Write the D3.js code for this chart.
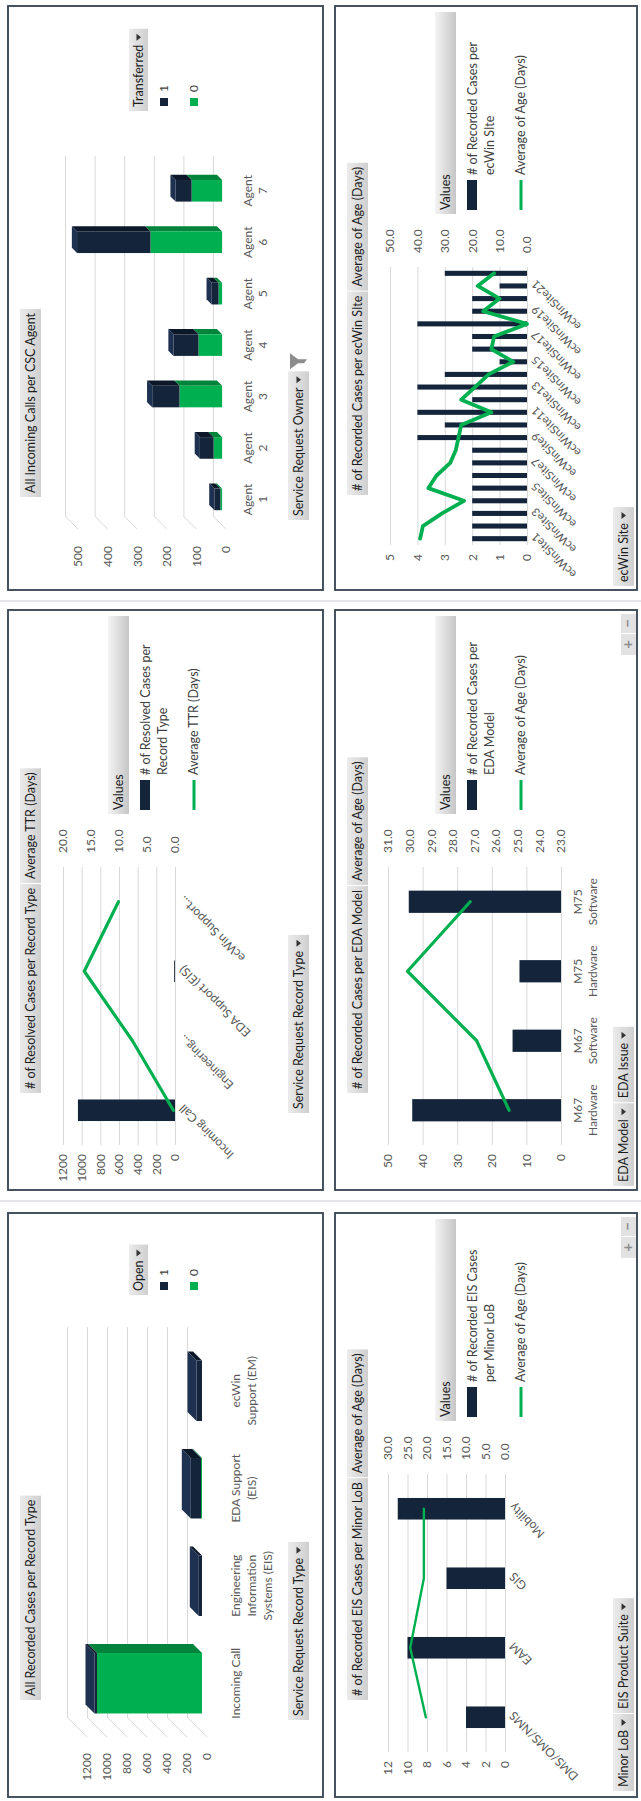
<!DOCTYPE html>
<html>
<head>
<meta charset="utf-8">
<script src="https://cdn.jsdelivr.net/npm/d3@7/dist/d3.min.js"></script>
<style>
  html, body { margin: 0; padding: 0; background: #ffffff; }
  svg { display: block; }
  text { font-family: Lato, "Open Sans", "Noto Sans", sans-serif; }
</style>
</head>
<body>
<svg id="chart" width="641" height="1801"></svg>
<script>
// ================= DATA =================
// All Recorded Cases per Record Type (3D stacked columns, legend "Open")
const recordTypeCats = ["Incoming Call", "Engineering Information Systems (EIS)", "EDA Support (EIS)", "ecWin Support (EM)"];
const recordTypeLabelLines = [["Incoming Call"], ["Engineering", "Information", "Systems (EIS)"], ["EDA Support", "(EIS)"], ["ecWin", "Support (EM)"]];
const openZeroCounts = [1050, 0, 10, 0];
const openOneCounts = [25, 32, 102, 55];
const recordTicks = [0, 200, 400, 600, 800, 1000, 1200];

// # of Resolved Cases per Record Type | Average TTR (Days)
const resolvedCats = ["Incoming Call", "Engineering...", "EDA Support (EIS)", "ecWin Support..."];
const resolvedCounts = [1040, 0, 9, 0];
const resolvedTTR = [0.3, 7.6, 16.2, 10.1];
const resolvedLeftTicks = [0, 200, 400, 600, 800, 1000, 1200];
const resolvedRightTicks = [0, 5, 10, 15, 20];

// All Incoming Calls per CSC Agent (3D stacked columns, legend "Transferred")
const agentCats = ["Agent 1", "Agent 2", "Agent 3", "Agent 4", "Agent 5", "Agent 6", "Agent 7"];
const agentLabelLines = [["Agent", "1"], ["Agent", "2"], ["Agent", "3"], ["Agent", "4"], ["Agent", "5"], ["Agent", "6"], ["Agent", "7"]];
const transferredZero = [6, 29, 144, 80, 12, 242, 103];
const transferredOne = [20, 46, 92, 84, 23, 248, 54];
const agentTicks = [0, 100, 200, 300, 400, 500];

// # of Recorded EIS Cases per Minor LoB | Average of Age (Days)
const eisCats = ["DMS/OMS/NMS", "EAM", "GIS", "Mobility"];
const eisCounts = [4, 10, 6, 11];
const eisAge = [20.3, 24.3, 20.8, 20.8];
const eisLeftTicks = [0, 2, 4, 6, 8, 10, 12];
const eisRightTicks = [0, 5, 10, 15, 20, 25, 30];

// # of Recorded Cases per EDA Model | Average of Age (Days)
const edaCats = ["M67 Hardware", "M67 Software", "M75 Hardware", "M75 Software"];
const edaLabelLines = [["M67", "Hardware"], ["M67", "Software"], ["M75", "Hardware"], ["M75", "Software"]];
const edaCounts = [43, 14, 12, 44];
const edaAge = [25.4, 26.9, 30.1, 27.2];
const edaLeftTicks = [0, 10, 20, 30, 40, 50];
const edaRightTicks = [23, 24, 25, 26, 27, 28, 29, 30, 31];

// # of Recorded Cases per ecWin SIte | Average of Age (Days)
const ecwinCats = ["ecWinSite1", "ecWinSite2", "ecWinSite3", "ecWinSite4", "ecWinSite5", "ecWinSite6", "ecWinSite7", "ecWinSite8",
  "ecWinSite9", "ecWinSite10", "ecWinSite11", "ecWinSite12", "ecWinSite13", "ecWinSite14", "ecWinSite15", "ecWinSite16",
  "ecWinSite17", "ecWinSite18", "ecWinSite19", "ecWinSite20", "ecWinSite21", "ecWinSite22"];
const ecwinShownLabels = ["ecWinSite1", "ecWinSite3", "ecWinSite5", "ecWinSite7", "ecWinSite9", "ecWinSite11",
  "ecWinSite13", "ecWinSite15", "ecWinSite17", "ecWinSite19", "ecWinSite21"];
const ecwinCounts = [2, 2, 2, 2, 2, 2, 2, 2, 4, 3, 4, 2, 4, 3, 1, 2, 2, 4, 2, 2, 1, 3];
const ecwinAge = [39, 38, 31, 23, 36, 33, 28, 26, 25, 24, 13, 24, 19, 14, 5, 13, 12, 0, 16, 10, 18, 12];
const ecwinLeftTicks = [0, 1, 2, 3, 4, 5];
const ecwinRightTicks = [0, 10, 20, 30, 40, 50];

// ================= STYLE =================
const NAVY = "#14243b", NAVY_SIDE = "#0c1829", NAVY_TOP = "#1f3150";
const GREEN = "#00b050", GREEN_SIDE = "#00843b", GREEN_TOP = "#00702f";
const GRID = "#d9d9d9", AXIS_TXT = "#595959", FRAME = "#34414f";

const svg = d3.select("#chart");
const defs = svg.append("defs");
const bg = defs.append("linearGradient").attr("id", "btnGrad").attr("x1", 0).attr("y1", 0).attr("x2", 0).attr("y2", 1);
bg.append("stop").attr("offset", "0%").attr("stop-color", "#ebebeb");
bg.append("stop").attr("offset", "100%").attr("stop-color", "#cfcfcf");
const vg = defs.append("linearGradient").attr("id", "valGrad").attr("x1", 0).attr("y1", 0).attr("x2", 0).attr("y2", 1);
vg.append("stop").attr("offset", "0%").attr("stop-color", "#f4f4f4");
vg.append("stop").attr("offset", "100%").attr("stop-color", "#c6c6c6");

svg.append("rect").attr("width", 641).attr("height", 1801).attr("fill", "#fff");
// the dashboard is laid out landscape (1801 x 641) and turned a quarter turn counter-clockwise
const root = svg.append("g").attr("transform", "translate(0,1801) rotate(-90)");

// sheet grid lines between panel columns
[600, 1200].forEach(xx => root.append("line").attr("x1", xx).attr("x2", xx).attr("y1", 0).attr("y2", 641)
  .attr("stroke", "#c9ced3").attr("stroke-width", 1.2));

const panels = {
  A: { x0: 4, x1: 588, y0: 8, y1: 323 },
  B: { x0: 611, x1: 1191, y0: 8, y1: 323 },
  C: { x0: 1211, x1: 1795, y0: 8, y1: 323 },
  D: { x0: 4, x1: 588, y0: 335, y1: 637 },
  E: { x0: 611, x1: 1191, y0: 335, y1: 637 },
  F: { x0: 1211, x1: 1795, y0: 335, y1: 637 }
};
Object.values(panels).forEach(p => root.append("rect").attr("x", p.x0).attr("y", p.y0)
  .attr("width", p.x1 - p.x0).attr("height", p.y1 - p.y0)
  .attr("fill", "#fff").attr("stroke", FRAME).attr("stroke-width", 1.8));

function fieldButton(g, x, y, label, opt = {}) {
  const h = opt.h || 21, fs = opt.fs || 12.5, pad = opt.pad || 4;
  const grp = g.append("g");
  const rect = grp.append("rect").attr("x", x).attr("y", y).attr("height", h)
    .attr("fill", opt.fill || "url(#btnGrad)");
  const t = grp.append("text").attr("x", x + pad).attr("y", y + h / 2).attr("dy", "0.36em")
    .style("font-size", fs + "px").attr("fill", "#1c1c1c").text(label);
  let w = t.node().getComputedTextLength() + pad * 2;
  if (opt.arrow) {
    const ax = x + w, ay = y + h / 2;
    grp.append("path").attr("d", `M${ax},${ay - 2} L${ax + 7},${ay - 2} L${ax + 3.5},${ay + 2.5} Z`).attr("fill", "#333");
    w += 12;
  }
  if (opt.funnel) {
    const fx = x + w + 2, fy = y + 2;
    grp.append("path").attr("d", `M${fx},${fy} L${fx + 16},${fy} L${fx + 10},${fy + 8} L${fx + 10},${fy + 17} L${fx + 6},${fy + 14} L${fx + 6},${fy + 8} Z`)
      .attr("fill", "#8c8c8c");
  }
  rect.attr("width", w);
  return w;
}

// ---------- 3D stacked column panel ----------
function draw3D(p, c) {
  const g = root.append("g");
  const D = c.depth;
  const yB = d3.scaleLinear().domain([0, d3.max(c.ticks)]).range([c.floorY, c.topY]);
  const xB = d3.scaleBand().domain(c.cats).range([c.wallL, c.wallR]).paddingInner(c.pad).paddingOuter(c.pad / 2);

  const grid = g.append("g").attr("transform", `translate(${c.wallL},0)`)
    .call(d3.axisLeft(yB).tickValues(c.ticks).tickSize(-(c.wallR - c.wallL)).tickFormat(""));
  grid.select(".domain").remove();
  grid.selectAll("line").attr("stroke", GRID);
  g.append("g").selectAll("line").data(c.ticks).join("line")
    .attr("x1", c.wallL).attr("y1", d => yB(d)).attr("x2", c.wallL - D).attr("y2", d => yB(d) + D)
    .attr("stroke", GRID);
  const lab = g.append("g").attr("transform", `translate(${c.wallL - D},${D})`)
    .call(d3.axisLeft(yB).tickValues(c.ticks).tickSize(0).tickPadding(c.labelPad).tickFormat(d3.format("d")));
  lab.select(".domain").remove();
  lab.selectAll("text").attr("fill", AXIS_TXT).style("font-size", "12px");

  const rows = c.cats.map((k, i) => ({ cat: k, zero: c.zero[i], one: c.one[i] }));
  const stacked = d3.stack().keys(["zero", "one"])(rows);
  const f = c.front * D, dd = c.barDepth * D, w = xB.bandwidth();
  const cols = { zero: [GREEN, GREEN_SIDE, GREEN_TOP], one: [NAVY, NAVY_SIDE, NAVY_TOP] };
  stacked.forEach(s => {
    const col = cols[s.key];
    s.forEach(d => {
      const x0 = xB(d.data.cat) - f, x1 = x0 + w;
      const yt = yB(d[1]) + f, yb = yB(d[0]) + f;
      if (yb - yt < 0.05) return;
      g.append("polygon").attr("points", [[x1, yb], [x1 + dd, yb - dd], [x1 + dd, yt - dd], [x1, yt]].join(" ")).attr("fill", col[1]);
      g.append("rect").attr("x", x0).attr("y", yt).attr("width", w).attr("height", yb - yt).attr("fill", col[0]);
      const isTop = s.key === "one" || d.data.one === 0;
      if (isTop) {
        g.append("polygon").attr("points", [[x0, yt], [x0 + dd, yt - dd], [x1 + dd, yt - dd], [x1, yt]].join(" ")).attr("fill", col[2]);
      }
    });
  });

  const cx = g.append("g").attr("transform", `translate(${-f},${c.labelY})`)
    .call(d3.axisBottom(xB).tickSize(0).tickPadding(0).tickFormat(""));
  cx.select(".domain").remove();
  cx.selectAll(".tick text").each(function (d, i) {
    const t = d3.select(this).attr("y", 0).attr("dy", null).attr("fill", AXIS_TXT).style("font-size", "12px");
    c.labelLines[i].forEach((ln, j) => t.append("tspan").attr("x", 0).attr("y", j * c.lineGap).text(ln));
  });
}

// ---------- combo bar + line panel ----------
function drawCombo(p, c) {
  const g = root.append("g");
  const L = p.x0 + 45, R = p.x0 + 323;
  const x = d3.scaleBand().domain(c.cats).range([L, R]).paddingInner(c.pad).paddingOuter(c.pad / 2);
  const yl = d3.scaleLinear().domain(d3.extent(c.lticks)).range([c.bottom, c.top]);
  const yr = d3.scaleLinear().domain(d3.extent(c.rticks)).range([c.bottom, c.top]);

  const gl = g.append("g").attr("transform", `translate(${L},0)`)
    .call(d3.axisLeft(yl).tickValues(c.lticks).tickSize(-(R - L)).tickPadding(9).tickFormat(d3.format("d")));
  gl.select(".domain").remove();
  gl.selectAll("line").attr("stroke", GRID);
  gl.selectAll("text").attr("fill", AXIS_TXT).style("font-size", "12px");

  const gr = g.append("g").attr("transform", `translate(${R},0)`)
    .call(d3.axisRight(yr).tickValues(c.rticks).tickSize(0).tickPadding(14).tickFormat(d3.format(".1f")));
  gr.select(".domain").remove();
  gr.selectAll("text").attr("fill", AXIS_TXT).style("font-size", "12px");

  g.append("g").selectAll("rect").data(c.cats.map((k, i) => ({ k, v: c.counts[i] }))).join("rect")
    .attr("x", d => x(d.k)).attr("width", x.bandwidth())
    .attr("y", d => yl(d.v)).attr("height", d => yl(0) - yl(d.v)).attr("fill", NAVY);

  const line = d3.line().x((d, i) => x(c.cats[i]) + x.bandwidth() / 2).y(d => yr(d));
  g.append("path").attr("d", line(c.age)).attr("fill", "none").attr("stroke", GREEN)
    .attr("stroke-width", c.lw).attr("stroke-linejoin", "round").attr("stroke-linecap", "round");

  const gx = g.append("g").attr("transform", `translate(0,${c.bottom})`)
    .call(d3.axisBottom(x).tickValues(c.shown || c.cats).tickSize(0).tickPadding(0));
  gx.select(".domain").remove();
  if (c.labelLines) {
    gx.selectAll(".tick text").each(function (d, i) {
      const t = d3.select(this).text(null).attr("y", 0).attr("dy", null).attr("fill", AXIS_TXT).style("font-size", "12px");
      c.labelLines[i].forEach((ln, j) => t.append("tspan").attr("x", 0).attr("y", 21 + j * 15).text(ln));
    });
  } else {
    gx.selectAll(".tick text").attr("fill", AXIS_TXT).style("font-size", c.labelSize || "12px")
      .attr("x", -2).attr("y", 7).attr("dy", "0.35em").attr("transform", "rotate(-45)").style("text-anchor", "end");
  }
}

function comboLegend(p, barLines, lineText) {
  const g = root.append("g");
  const bx = p.x0 + 376, by = p.y0 + 100, bw = p.x1 - 6 - bx;
  g.append("rect").attr("x", bx).attr("y", by).attr("width", bw).attr("height", 21).attr("fill", "url(#valGrad)");
  g.append("text").attr("x", bx + 4).attr("y", by + 15).style("font-size", "12.5px").attr("fill", "#1c1c1c").text("Values");
  g.append("rect").attr("x", bx + 4).attr("y", p.y0 + 132).attr("width", 30).attr("height", 10).attr("fill", NAVY);
  barLines.forEach((t, i) => g.append("text").attr("x", bx + 39).attr("y", p.y0 + 142 + i * 17)
    .style("font-size", "12.5px").attr("fill", "#404040").text(t));
  g.append("line").attr("x1", bx + 4).attr("x2", bx + 34).attr("y1", p.y0 + 186).attr("y2", p.y0 + 186)
    .attr("stroke", GREEN).attr("stroke-width", 3);
  g.append("text").attr("x", bx + 39).attr("y", p.y0 + 190).style("font-size", "12.5px").attr("fill", "#404040").text(lineText);
}

function legend3D(p, x, title, keys) {
  const g = root.append("g");
  fieldButton(g, x, p.y0 + 121, title, { arrow: true, h: 19, fs: 12.5 });
  keys.forEach((k, i) => {
    g.append("rect").attr("x", x + 5).attr("y", p.y0 + 152 + i * 30).attr("width", 8).attr("height", 8).attr("fill", k[1]);
    g.append("text").attr("x", x + 19).attr("y", p.y0 + 160 + i * 30).style("font-size", "12px").attr("fill", "#404040").text(k[0]);
  });
}

function titleButtons(p, x, labels) {
  const g = root.append("g");
  let cx = x;
  labels.forEach(l => { cx += fieldButton(g, cx, p.y0 + 12, l, { fs: 12.5 }) + 1; });
}

function zoomButtons(p) {
  const g = root.append("g");
  const y = p.y1 - 16;
  [["+", p.x1 - 45, 21], ["\u2212", p.x1 - 23, 19]].forEach(b => {
    g.append("rect").attr("x", b[1]).attr("y", y).attr("width", b[2]).attr("height", 15).attr("fill", "#e2e2e2");
    g.append("text").attr("x", b[1] + b[2] / 2).attr("y", y + 12).attr("text-anchor", "middle")
      .style("font-size", "15px").style("font-weight", "bold").attr("fill", "#8d8d8d").text(b[0]);
  });
}

// ================= PANEL A =================
const A = panels.A;
titleButtons(A, 101, ["All Recorded Cases per Record Type"]);
draw3D(A, { cats: recordTypeCats, labelLines: recordTypeLabelLines, zero: openZeroCounts, one: openOneCounts,
  ticks: recordTicks, wallL: 84, wallR: 474, floorY: 187, topY: 67, depth: 20, front: 0.75, barDepth: 0.45,
  pad: 0.38, labelPad: 16, labelY: 240, lineGap: 16 });
legend3D(A, 506, "Open", [["1", NAVY], ["0", GREEN]]);
fieldButton(root.append("g"), 81, 288, "Service Request Record Type", { arrow: true, fs: 12.5 });

// ================= PANEL B =================
const B = panels.B;
titleButtons(B, 708, ["# of Resolved Cases per Record Type", "Average TTR (Days)"]);
drawCombo(B, { cats: resolvedCats, counts: resolvedCounts, age: resolvedTTR, lticks: resolvedLeftTicks,
  rticks: resolvedRightTicks, top: 63, bottom: 175, pad: 0.69, lw: 3.2 });
comboLegend(B, ["# of Resolved Cases per", "Record Type"], "Average TTR (Days)");
fieldButton(root.append("g"), 688, 288, "Service Request Record Type", { arrow: true, fs: 12.5 });

// ================= PANEL C =================
const C = panels.C;
titleButtons(C, 1304, ["All Incoming Calls per CSC Agent"]);
draw3D(C, { cats: agentCats, labelLines: agentLabelLines, zero: transferredZero, one: transferredOne,
  ticks: agentTicks, wallL: 1285, wallR: 1645, floorY: 213, topY: 65, depth: 13, front: 0.7, barDepth: 0.4,
  pad: 0.58, labelPad: 17, labelY: 252, lineGap: 15 });
legend3D(C, 1690, "Transferred", [["1", NAVY], ["0", GREEN]]);
fieldButton(root.append("g"), 1281, 288, "Service Request Owner", { arrow: true, fs: 12.5, funnel: true });

// ================= PANEL D =================
const D_ = panels.D;
titleButtons(D_, 101, ["# of Recorded EIS Cases per Minor LoB", "Average of Age (Days)"]);
drawCombo(D_, { cats: eisCats, counts: eisCounts, age: eisAge, lticks: eisLeftTicks, rticks: eisRightTicks,
  top: 388, bottom: 505, pad: 0.69, lw: 2.4 });
comboLegend(D_, ["# of Recorded EIS Cases", "per Minor LoB"], "Average of Age (Days)");
{
  const g = root.append("g");
  const w1 = fieldButton(g, 10, 613, "Minor LoB", { arrow: true, fs: 12.5 });
  fieldButton(g, 10 + w1 + 1, 613, "EIS Product Suite", { arrow: true, fs: 12.5 });
}
zoomButtons(D_);

// ================= PANEL E =================
const E = panels.E;
titleButtons(E, 708, ["# of Recorded Cases per EDA Model", "Average of Age (Days)"]);
drawCombo(E, { cats: edaCats, labelLines: edaLabelLines, counts: edaCounts, age: edaAge, lticks: edaLeftTicks,
  rticks: edaRightTicks, top: 388, bottom: 561, pad: 0.68, lw: 3.2 });
comboLegend(E, ["# of Recorded Cases per", "EDA Model"], "Average of Age (Days)");
{
  const g = root.append("g");
  const w1 = fieldButton(g, 615, 613, "EDA Model", { arrow: true, fs: 12.5 });
  fieldButton(g, 615 + w1 + 1, 613, "EDA Issue", { arrow: true, fs: 12.5 });
}
zoomButtons(E);

// ================= PANEL F =================
const F = panels.F;
titleButtons(F, 1306, ["# of Recorded Cases per ecWin SIte", "Average of Age (Days)"]);
drawCombo(F, { cats: ecwinCats, shown: ecwinShownLabels, counts: ecwinCounts, age: ecwinAge, lticks: ecwinLeftTicks,
  rticks: ecwinRightTicks, top: 390, bottom: 527, pad: 0.6, lw: 3.8, labelSize: "11.5px" });
comboLegend(F, ["# of Recorded Cases per", "ecWin SIte"], "Average of Age (Days)");
fieldButton(root.append("g"), 1215, 613, "ecWin Site", { arrow: true, fs: 12.5 });
</script>
</body>
</html>
